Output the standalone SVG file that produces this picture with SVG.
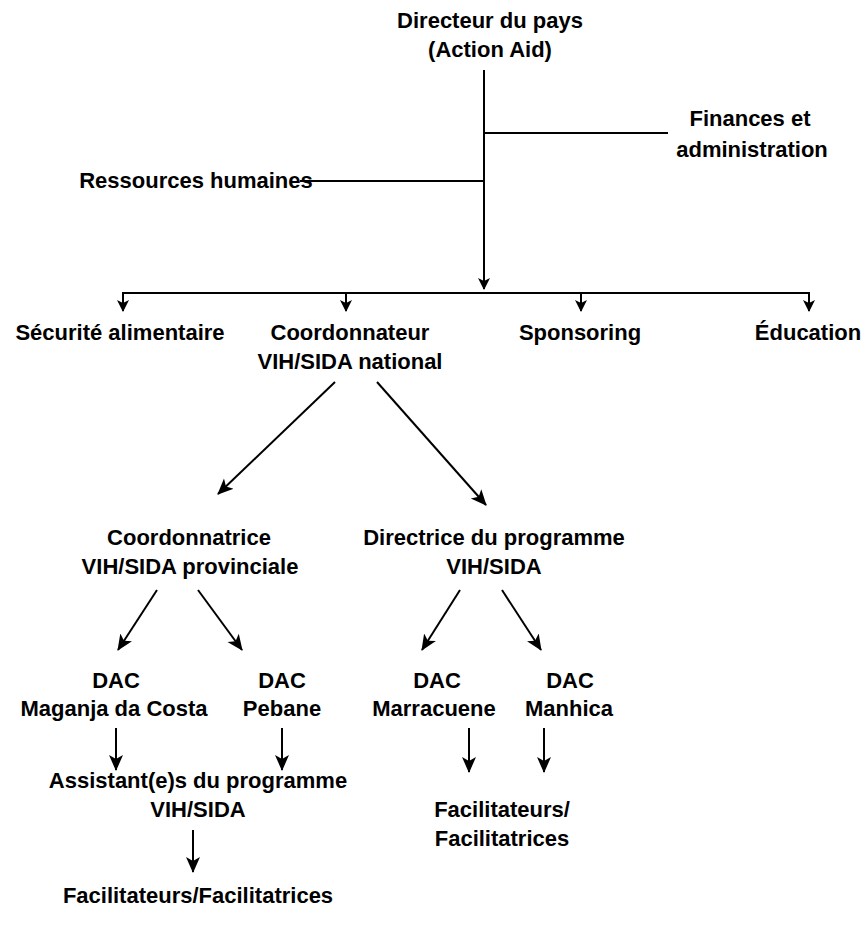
<svg xmlns="http://www.w3.org/2000/svg" width="865" height="943" viewBox="0 0 865 943">
<style>
text{font-family:"Liberation Sans",Arial,sans-serif;font-weight:bold;font-size:22px;fill:#000;text-anchor:middle}
.ln{stroke:#000;stroke-width:2;fill:none}
.sm{marker-end:url(#ahs)}
.bg{marker-end:url(#ahb)}
</style>
<defs>
<marker id="ahs" markerUnits="userSpaceOnUse" markerWidth="12" markerHeight="14" viewBox="0 0 12 14" refX="11" refY="7" orient="auto"><path d="M0,1 L12,7 L0,13 L3,7 Z" fill="#000"/></marker>
<marker id="ahb" markerUnits="userSpaceOnUse" markerWidth="16" markerHeight="16" viewBox="0 0 16 16" refX="15" refY="8" orient="auto"><path d="M0,1 L16,8 L0,15 L4,8 Z" fill="#000"/></marker>
</defs>
<rect width="865" height="943" fill="#fff"/>
<g id="connectors">
<line class="ln sm" x1="484" y1="70" x2="484" y2="289"/>
<line class="ln" x1="484" y1="133" x2="668" y2="133"/>
<line class="ln" x1="300" y1="181" x2="484" y2="181"/>
<line class="ln" x1="122" y1="293" x2="810" y2="293"/>
<line class="ln sm" x1="123" y1="292" x2="123" y2="311"/>
<line class="ln sm" x1="346" y1="292" x2="346" y2="311"/>
<line class="ln sm" x1="581" y1="292" x2="581" y2="311"/>
<line class="ln sm" x1="809" y1="292" x2="809" y2="311"/>
<line class="ln bg" x1="335" y1="382" x2="218" y2="494"/>
<line class="ln bg" x1="377" y1="382" x2="486" y2="505"/>
<line class="ln bg" x1="157" y1="590" x2="118" y2="650"/>
<line class="ln bg" x1="198" y1="590" x2="242" y2="650"/>
<line class="ln bg" x1="460" y1="590" x2="422" y2="650"/>
<line class="ln bg" x1="502" y1="590" x2="541" y2="650"/>
<line class="ln bg" x1="116" y1="728" x2="116" y2="770"/>
<line class="ln bg" x1="282" y1="728" x2="282" y2="770"/>
<line class="ln bg" x1="469" y1="728" x2="469" y2="772"/>
<line class="ln bg" x1="544" y1="728" x2="544" y2="772"/>
<line class="ln bg" x1="193" y1="830" x2="193" y2="872"/>
</g>
<g id="directeur"><text x="490" y="28">Directeur du pays</text><text x="490" y="57">(Action Aid)</text></g>
<g id="finances"><text x="750" y="126">Finances et</text><text x="752" y="157">administration</text></g>
<g id="rh"><text x="196" y="188">Ressources humaines</text></g>
<g id="securite"><text x="120" y="340">Sécurité alimentaire</text></g>
<g id="coord-national"><text x="350" y="340">Coordonnateur</text><text x="350" y="369">VIH/SIDA national</text></g>
<g id="sponsoring"><text x="580" y="340">Sponsoring</text></g>
<g id="education"><text x="808" y="340">Éducation</text></g>
<g id="coord-provinciale"><text x="189" y="545">Coordonnatrice</text><text x="190" y="574">VIH/SIDA provinciale</text></g>
<g id="directrice"><text x="494" y="545">Directrice du programme</text><text x="494" y="574">VIH/SIDA</text></g>
<g id="dac-maganja"><text x="116" y="688">DAC</text><text x="114" y="716">Maganja da Costa</text></g>
<g id="dac-pebane"><text x="282" y="688">DAC</text><text x="282" y="716">Pebane</text></g>
<g id="dac-marracuene"><text x="437" y="688">DAC</text><text x="434" y="716">Marracuene</text></g>
<g id="dac-manhica"><text x="570" y="688">DAC</text><text x="569" y="716">Manhica</text></g>
<g id="assistants"><text x="198" y="788">Assistant(e)s du programme</text><text x="198" y="817">VIH/SIDA</text></g>
<g id="facil-left"><text x="198" y="903">Facilitateurs/Facilitatrices</text></g>
<g id="facil-right"><text x="502" y="817">Facilitateurs/</text><text x="502" y="846">Facilitatrices</text></g>
</svg>
